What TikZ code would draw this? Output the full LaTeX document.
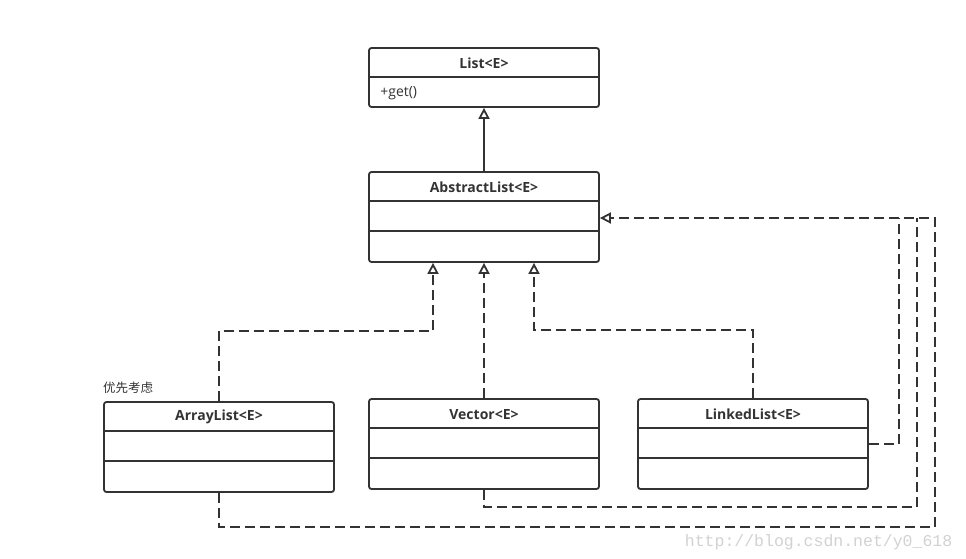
\documentclass[tikz,border=0pt]{standalone}
\usepackage{fontspec}
\setmainfont{Open Sans}
\newfontfamily\cjk{Noto Sans CJK SC}
\newfontfamily\urlfont{Liberation Mono}
\usetikzlibrary{arrows.meta,positioning}
\definecolor{ink}{HTML}{333333}
\definecolor{wmark}{HTML}{D2D2D2}

\begin{document}
\begin{tikzpicture}[x=1pt, y=-1pt, color=ink, line width=1.8pt,
  >={Triangle[open,length=11pt,width=11pt]},
  cls/.style={draw, rounded corners=2.5pt, minimum width=230pt, minimum height=90pt, inner sep=0pt},
  head/.style={font=\bfseries\fontsize{14}{16}\selectfont},
  impl/.style={->, dash pattern=on 10pt off 5pt},
  link/.style={dash pattern=on 10pt off 5pt}]
\path[fill=white] (0,0) rectangle (966,559);
\useasboundingbox (0,0) rectangle (966,559);

% classes
\node[cls, minimum height=59pt] (list) at (484,77.5) {};
\node[cls] (abs) at (484,217) {};
\node[cls] (arr) at (219,447) {};
\node[cls] (vec) at (484,444) {};
\node[cls] (lnk) at (753,444) {};

\node[head] (listT) at ([yshift=-16pt]list.north) {List<E>};
\node[head] (absT) at ([yshift=-16pt]abs.north) {AbstractList<E>};
\node[head] (arrT) at ([yshift=-16pt]arr.north) {ArrayList<E>};
\node[head] (vecT) at ([yshift=-16pt]vec.north) {Vector<E>};
\node[head] (lnkT) at ([yshift=-16pt]lnk.north) {LinkedList<E>};
\node[anchor=west, font=\fontsize{14}{16}\selectfont] (get) at ([xshift=8pt,yshift=-46pt]list.north west) {+get()};
\node[anchor=base west, inner sep=0pt, font=\cjk\fontsize{12.5}{14}\selectfont] (pref) at ([xshift=-1pt,yshift=9pt]arr.north west) {优先考虑};

% compartments
\draw ([yshift=-30pt]list.north west) -- ([yshift=-30pt]list.north east);
\foreach \c in {abs,arr,vec,lnk} {
  \draw ([yshift=-30pt]\c.north west) -- ([yshift=-30pt]\c.north east);
  \draw ([yshift=-60pt]\c.north west) -- ([yshift=-60pt]\c.north east);
}

% generalization and realization
\coordinate (jl) at ([xshift=299pt,yshift=-1pt]abs.east);
\coordinate (jv) at ([xshift=317pt,yshift=-1pt]abs.east);
\draw[->] (abs.north) -- (list.south);
\draw[impl] (arr.north) -- ++(0,-70) -| ([xshift=-51pt]abs.south);
\draw[impl] (vec.north) -- (abs.south);
\draw[impl] (lnk.north) -- ++(0,-68) -| ([xshift=50pt]abs.south);
\draw[impl] (arr.south) -- ++(0,34) -| ([xshift=335pt,yshift=-1pt]abs.east) -- ([yshift=-1pt]abs.east);
\draw[link] (vec.south) -- ++(0,17) -| (jv);
\draw[link] (lnk.east) -| (jl);

\node[anchor=base west, inner sep=0pt, text=wmark, font=\urlfont\fontsize{16.5}{18}\selectfont] (url) at (684,546) {http://blog.csdn.net/y0\_618};
\end{tikzpicture}
\end{document}
